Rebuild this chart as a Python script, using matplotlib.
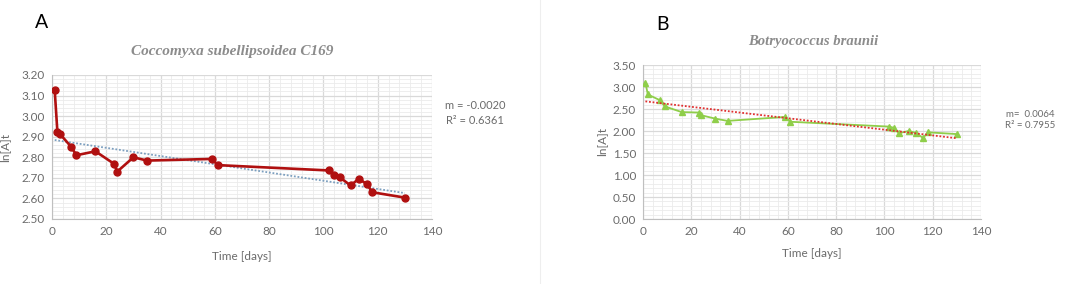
import matplotlib
matplotlib.use('Agg')
import matplotlib.pyplot as plt
from matplotlib.ticker import MultipleLocator, AutoMinorLocator
from matplotlib.lines import Line2D
import numpy as np

# ── data ──
days_a = [1, 2, 3, 7, 9, 16, 23, 24, 30, 35, 59, 61, 102, 104, 106, 110, 113, 116, 118, 130]
lnA_a = [3.125, 2.921, 2.912, 2.852, 2.810, 2.829, 2.767, 2.730, 2.800, 2.784,
         2.792, 2.762, 2.736, 2.715, 2.703, 2.663, 2.695, 2.670, 2.630, 2.604]
trend_a = (2.886, -0.0020)          # intercept, slope
title_a = 'Coccomyxa subellipsoidea C169'
eq_a = 'm = -0.0020\nR² = 0.6361'

days_b = [1, 2, 7, 9, 16, 23, 24, 30, 35, 59, 61, 102, 104, 106, 110, 113, 116, 118, 130]
lnA_b = [3.10, 2.83, 2.70, 2.56, 2.43, 2.42, 2.36, 2.28, 2.23, 2.32,
         2.21, 2.10, 2.07, 1.95, 2.00, 1.96, 1.84, 1.97, 1.93]
trend_b = (2.68, -0.0065)
title_b = 'Botryococcus braunii'
eq_b = 'm=  0.0064\nR² = 0.7955'

C_TICK = '#6b6b6b'
C_TITLE = '#8c8c8c'
C_GRID = '#d9d9d9'
C_MINOR = '#ebebeb'

plt.rcParams['font.family'] = ['Lato', 'DejaVu Sans']

fig = plt.figure(figsize=(10.77, 2.84), dpi=100)
W, H = 1077, 284


def box(x0, x1, y0, y1):
    return [x0 / W, 1 - y1 / H, (x1 - x0) / W, (y1 - y0) / H]


def style(ax, ymaj, ymin, ymax, ypad, xpad):
    ax.set_xlim(0, 140)
    ax.set_ylim(ymin, ymax)
    ax.xaxis.set_major_locator(MultipleLocator(20))
    ax.yaxis.set_major_locator(MultipleLocator(ymaj))
    ax.xaxis.set_minor_locator(AutoMinorLocator(5))
    ax.yaxis.set_minor_locator(AutoMinorLocator(5))
    ax.grid(True, which='major', color=C_GRID, lw=0.9)
    ax.grid(True, which='minor', color=C_MINOR, lw=0.6)
    ax.set_axisbelow(True)
    for s in ['top', 'right']:
        ax.spines[s].set_visible(False)
    for s in ['left', 'bottom']:
        ax.spines[s].set_color('#bfbfbf')
    ax.tick_params(which='both', length=0, colors=C_TICK, labelsize=8.5, pad=5)
    ax.yaxis.set_major_formatter(plt.FuncFormatter(lambda v, p: f'{v:.2f}'))
    ax.set_xlabel('Time [days]', fontsize=8.5, color=C_TICK, labelpad=xpad)
    ax.set_ylabel('ln[A]t', fontsize=8.5, color=C_TICK, labelpad=ypad)


# ── A ──
ax = fig.add_axes(box(52, 432, 75, 219))
style(ax, 0.1, 2.5, 3.2, ypad=8, xpad=10)
xa = np.array([days_a[0], days_a[-1]])
ax.plot(xa, trend_a[0] + trend_a[1] * xa, color='#7c9fbf', lw=1.3, ls=(0, (1, 1)))
ax.plot(days_a, lnA_a, color='#b01010', lw=1.9, marker='o', ms=5, zorder=3)
fig.text(232 / W, 1 - 51 / H, title_a, fontsize=11, color=C_TITLE, family='Liberation Serif',
         style='italic', fontweight='bold', ha='center', va='center')
fig.text(475 / W, 1 - 113 / H, eq_a, fontsize=8, color=C_TICK,
         ha='center', va='center', linespacing=1.4)
fig.text(42 / W, 1 - 23 / H, 'A', fontsize=14, ha='center', va='center')

# ── B ──
ax = fig.add_axes(box(643, 981, 65, 219))
style(ax, 0.5, 0.0, 3.5, ypad=4, xpad=8)
xb = np.array([days_b[0], days_b[-1]])
ax.plot(xb, trend_b[0] + trend_b[1] * xb, color='#e03030', lw=1.3, ls=(0, (1, 1)), zorder=4)
ax.plot(days_b, lnA_b, color='#8fce4a', lw=1.3, marker='^', ms=5, zorder=3)
fig.text(813 / W, 1 - 41 / H, title_b, fontsize=10.5, color=C_TITLE, family='Liberation Serif',
         style='italic', fontweight='bold', ha='center', va='center')
fig.text(1030 / W, 1 - 120 / H, eq_b, fontsize=7, color=C_TICK,
         ha='center', va='center', linespacing=1.4)
fig.text(663 / W, 1 - 24 / H, 'B', fontsize=14, ha='center', va='center')

# faint divider between panels
fig.add_artist(Line2D([540 / W, 540 / W], [0, 1], color='#eeeeee', lw=0.8))

fig.savefig('out.png', dpi=100, facecolor='white')
